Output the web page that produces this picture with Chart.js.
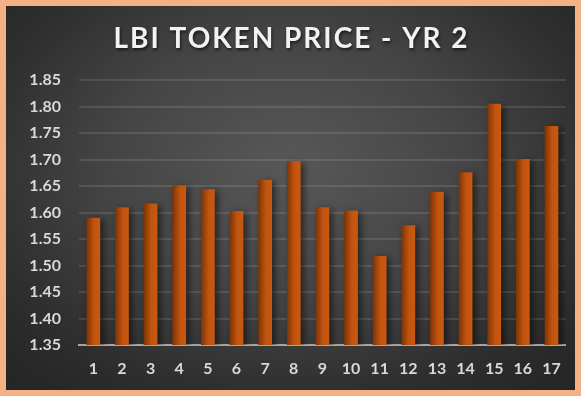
<!DOCTYPE html>
<html>
<head>
<meta charset="utf-8">
<script src="https://cdn.jsdelivr.net/npm/chart.js@4/dist/chart.umd.min.js"></script>
<style>
    html, body { margin: 0; padding: 0; background: #F4B183; }
    .frame {
        width: 569px;
        height: 384px;
        border: 6px solid #F4B183;
        background: radial-gradient(ellipse 70% 75% at 50% 42%, #585858 0%, #454545 45%, #2e2e2e 80%, #262626 100%);
    }
    canvas { display: block; }
</style>
</head>
<body>
<div class="frame"><canvas id="chart" width="569" height="384"></canvas></div>
<script>
'use strict';

const chartTitle = 'LBI TOKEN PRICE - YR 2';
const periods = ['1', '2', '3', '4', '5', '6', '7', '8', '9', '10', '11', '12', '13', '14', '15', '16', '17'];
const prices = [1.590, 1.610, 1.617, 1.651, 1.644, 1.603, 1.662, 1.697, 1.610, 1.604, 1.518, 1.576, 1.639, 1.676, 1.805, 1.701, 1.763];
const yTicks = [1.35, 1.40, 1.45, 1.50, 1.55, 1.60, 1.65, 1.70, 1.75, 1.80, 1.85];

const labelFont = { family: 'Lato', size: 16, weight: 'bold' };

// left-dark to right-orange fill, one gradient per bar
function barFill(context) {
    const chart = context.chart;
    const xScale = chart.scales.x;
    if (!xScale || !chart.chartArea) {
        return '#C55A11';
    }
    const cx = xScale.getPixelForValue(context.dataIndex);
    const half = (xScale.width / periods.length) * 0.48 / 2;
    const g = chart.ctx.createLinearGradient(cx - half, 0, cx + half, 0);
    g.addColorStop(0, '#7c3306');
    g.addColorStop(0.55, '#c0540f');
    g.addColorStop(1, '#c95911');
    return g;
}

const barShadow = {
    id: 'barShadow',
    beforeDatasetsDraw(chart) {
        const ctx = chart.ctx;
        ctx.save();
        ctx.shadowColor = 'rgba(0, 0, 0, 0.55)';
        ctx.shadowBlur = 7;
        ctx.shadowOffsetX = 3;
        ctx.shadowOffsetY = 2;
    },
    afterDatasetsDraw(chart) {
        chart.ctx.restore();
    }
};

const spacedTitle = {
    id: 'spacedTitle',
    afterDraw(chart) {
        const ctx = chart.ctx;
        ctx.save();
        ctx.font = 'bold 28px Lato';
        ctx.letterSpacing = '2px';
        ctx.fillStyle = '#F2F2F2';
        ctx.textAlign = 'center';
        ctx.textBaseline = 'middle';
        ctx.shadowColor = 'rgba(0, 0, 0, 0.6)';
        ctx.shadowBlur = 3;
        ctx.shadowOffsetX = 1;
        ctx.shadowOffsetY = 2;
        ctx.fillText(chartTitle, chart.width / 2 + 1, 33);
        ctx.restore();
    }
};

new Chart(document.getElementById('chart').getContext('2d'), {
    type: 'bar',
    data: {
        labels: periods,
        datasets: [{
            data: prices,
            backgroundColor: barFill,
            borderWidth: 0,
            barPercentage: 0.48,
            categoryPercentage: 1
        }]
    },
    options: {
        responsive: false,
        animation: false,
        layout: { padding: { top: 74, right: 9, bottom: 10, left: 0 } },
        plugins: {
            legend: { display: false },
            title: { display: false },
            tooltip: { enabled: false }
        },
        scales: {
            x: {
                grid: { display: false, drawTicks: false },
                border: { display: true, color: '#A6A6A6', width: 2 },
                ticks: { color: '#D9D9D9', font: labelFont, padding: 14, maxRotation: 0 },
                afterFit(scale) { scale.height = 35; }
            },
            y: {
                min: 1.35,
                max: 1.85,
                afterBuildTicks(scale) {
                    scale.ticks = yTicks.map(v => ({ value: v }));
                },
                grid: { color: 'rgba(255, 255, 255, 0.11)', lineWidth: 2, drawTicks: false },
                border: { display: false },
                ticks: {
                    color: '#D9D9D9',
                    font: labelFont,
                    padding: 18,
                    callback: v => Number(v).toFixed(2)
                },
                afterFit(scale) { scale.width = 73; }
            }
        }
    },
    plugins: [barShadow, spacedTitle]
});
</script>
</body>
</html>
